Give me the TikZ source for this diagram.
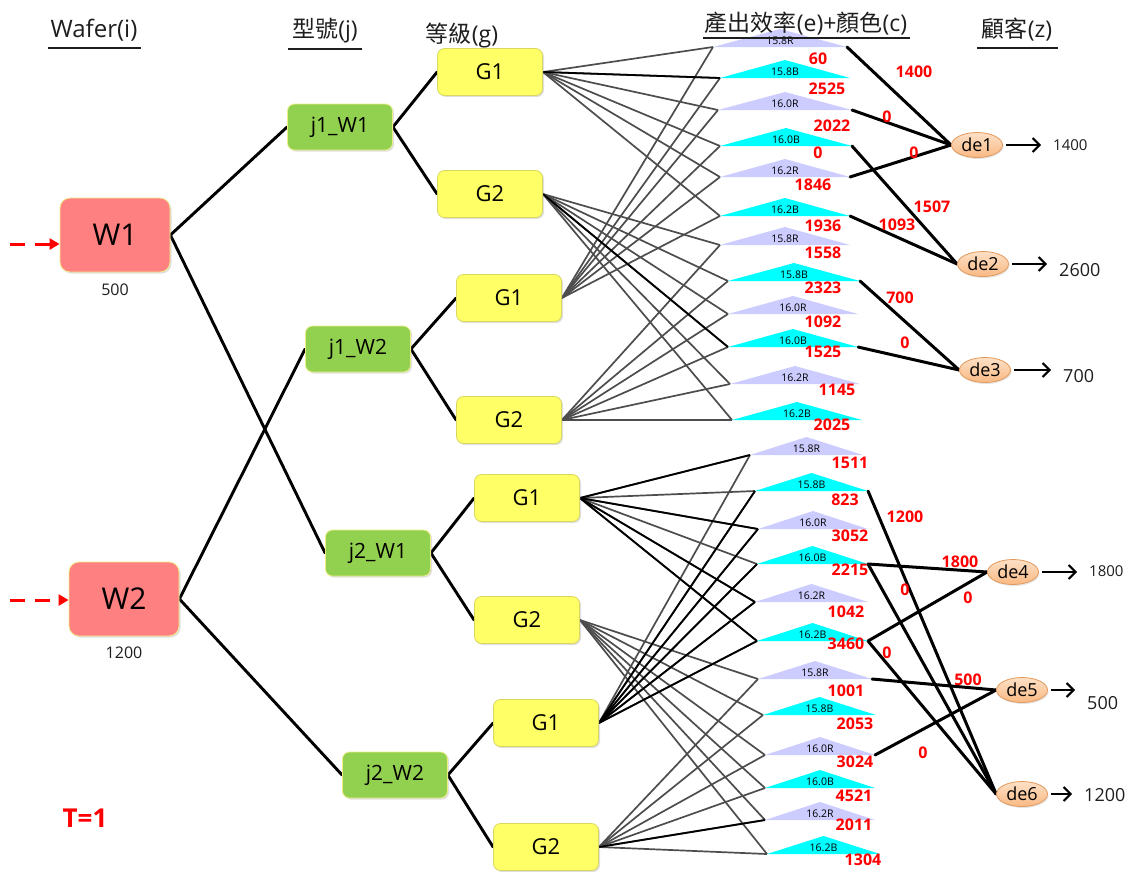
\documentclass[tikz,border=0pt]{standalone}
\usepackage{fontspec}
\setmainfont{Open Sans}
\newfontfamily\cjk{Noto Sans CJK TC}
\usetikzlibrary{shapes.geometric,arrows.meta,shadows}

\definecolor{wred}{HTML}{FF8080}
\definecolor{boxedge}{HTML}{EEEE88}
\definecolor{jgreen}{HTML}{92D050}
\definecolor{gyellow}{HTML}{FFFF66}
\definecolor{gedge}{HTML}{D8D860}
\definecolor{lav}{HTML}{CCCCFF}
\definecolor{cyn}{HTML}{00FFFF}
\definecolor{peach}{HTML}{F9B984}
\definecolor{peachlt}{HTML}{FDE0C6}
\definecolor{peachedge}{HTML}{E39A5C}
\definecolor{fangray}{HTML}{4D4D4D}
\definecolor{txtgray}{HTML}{1E1E1E}

\newcommand\pxsize[1]{\fontsize{#1}{#1}\selectfont}

\pgfdeclarelayer{bg}
\pgfsetlayers{bg,main}

% efficiency/colour triangle: name, left x, right x, base y, fill, label
\newcommand\efftri[6]{%
  \fill[#5] (#2,#4) -- ({(#2+#3)/2},{#4-18}) -- (#3,#4) -- cycle;
  \coordinate (#1-l) at (#2,#4);
  \coordinate (#1-r) at (#3,#4);
  \node[trilabel] (#1-txt) at ({(#2+#3)/2},{#4-6}) {#6};
}

\begin{document}
\begin{tikzpicture}[x=1pt,y=-1pt,
  wbox/.style={rounded corners=10pt, fill=wred, draw=boxedge, line width=0.8pt,
    minimum width=110pt, minimum height=74pt, font=\pxsize{30},
    drop shadow={shadow xshift=1.5pt, shadow yshift=-1.5pt, opacity=0.25}},
  jbox/.style={rounded corners=7pt, fill=jgreen, draw=boxedge, line width=0.8pt,
    minimum width=105pt, minimum height=46pt, font=\pxsize{21},
    drop shadow={shadow xshift=1.5pt, shadow yshift=-1.5pt, opacity=0.25}},
  gbox/.style={rounded corners=7pt, fill=gyellow, draw=gedge, line width=0.8pt,
    minimum width=105pt, minimum height=47pt, font=\pxsize{22},
    drop shadow={shadow xshift=1.5pt, shadow yshift=-1.5pt, opacity=0.25}},
  cust/.style={ellipse, top color=peachlt, bottom color=peach, draw=peachedge,
    line width=0.8pt, minimum width=51pt, minimum height=25pt, inner sep=0pt,
    font=\pxsize{18},
    drop shadow={shadow xshift=1pt, shadow yshift=-1.5pt, opacity=0.2}},
  hdr/.style={font=\pxsize{23}, text=txtgray, inner sep=0pt},
  uline/.style={line width=2pt, draw=txtgray},
  qty/.style={font=\pxsize{16}, text=txtgray, inner sep=0pt},
  demand/.style={text=txtgray, inner sep=0pt, anchor=west},
  trilabel/.style={font=\pxsize{10.5}, text=black, inner sep=0pt},
  rednum/.style={font=\bfseries\pxsize{16}, text=red, inner sep=0pt},
  link/.style={line width=2.9pt, line cap=round},
  fan/.style={line width=1.7pt, draw=fangray},
  fandark/.style={line width=1.8pt, draw=black},
  custline/.style={line width=3pt, line cap=round},
  feed/.style={red, line width=3pt, dash pattern=on 15pt off 10pt,
    -{Triangle[length=10pt,width=11pt]}},
  outarrow/.style={line width=2pt, -{Straight Barb[length=7pt,width=14pt]},
    shorten <=3pt, shorten >=12pt}
]
\useasboundingbox (0,0) rectangle (1129,871);
\begin{pgfonlayer}{bg}
  \fill[white] (0,0) rectangle (1129,871);
\end{pgfonlayer}

% ---- column headings ----
\node[hdr, anchor=base, font=\pxsize{24}] (hW) at (94,37) {Wafer(i)};
\node[hdr, anchor=base] (hJ) at (325,37) {{\cjk 型號}(j)};
\node[hdr, anchor=base] (hG) at (462,42) {{\cjk 等級}(g)};
\node[hdr, anchor=base] (hZ) at (1017,37) {{\cjk 顧客}(z)};

% ---- wafers ----
\node[wbox] (W1) at (115,235) {W1};
\node[wbox] (W2) at (124,599) {W2};
\node[qty] (W1q) at (115,290) {500};
\node[qty] (W2q) at (124,653) {1200};
\coordinate (in1) at (10,244);
\coordinate (in2) at (10,600);

% ---- models ----
\node[jbox] (j1W1) at (340,127) {j1\_W1};
\node[jbox] (j1W2) at (358,349) {j1\_W2};
\node[jbox] (j2W1) at (378,553) {j2\_W1};
\node[jbox] (j2W2) at (395,775) {j2\_W2};

% ---- grades ----
\node[gbox] (G1a) at (490,72) {G1};
\node[gbox] (G2a) at (490,194) {G2};
\node[gbox] (G1b) at (509,298) {G1};
\node[gbox] (G2b) at (509,420) {G2};
\node[gbox] (G1c) at (527,498) {G1};
\node[gbox] (G2c) at (527,620) {G2};
\node[gbox] (G1d) at (546,723) {G1};
\node[gbox] (G2d) at (546,847) {G2};

% ---- efficiency + colour ----
\efftri{t1}{713}{847}{47}{lav}{15.8R}
\efftri{t2}{720}{850}{78}{cyn}{15.8B}
\efftri{t3}{718}{852}{110}{lav}{16.0R}
\efftri{t4}{720}{852}{146}{cyn}{16.0B}
\efftri{t5}{720}{850}{177}{lav}{16.2R}
\efftri{t6}{720}{850}{216}{cyn}{16.2B}
\efftri{t7}{720}{850}{245}{lav}{15.8R}
\efftri{t8}{728}{860}{281}{cyn}{15.8B}
\efftri{t9}{728}{858}{314}{lav}{16.0R}
\efftri{t10}{728}{858}{347}{cyn}{16.0B}
\efftri{t11}{730}{860}{384}{lav}{16.2R}
\efftri{t12}{732}{862}{420}{cyn}{16.2B}
\efftri{b1}{750}{863}{455}{lav}{15.8R}
\efftri{b2}{755}{868}{491}{cyn}{15.8B}
\efftri{b3}{758}{868}{529}{lav}{16.0R}
\efftri{b4}{757}{868}{564}{cyn}{16.0B}
\efftri{b5}{755}{868}{602}{lav}{16.2R}
\efftri{b6}{757}{868}{641}{cyn}{16.2B}
\efftri{b7}{758}{872}{679}{lav}{15.8R}
\efftri{b8}{763}{876}{715}{cyn}{15.8B}
\efftri{b9}{765}{875}{755}{lav}{16.0R}
\efftri{b10}{765}{875}{788}{cyn}{16.0B}
\efftri{b11}{765}{875}{820}{lav}{16.2R}
\efftri{b12}{767}{880}{854}{cyn}{16.2B}

% heading over the triangles, drawn on top of them
\node[hdr, anchor=base] (hE) at (806,31) {{\cjk 產出效率}(e)+{\cjk 顏色}(c)};
\draw[uline] (48,48) -- (141,48);
\draw[uline] (288,49) -- (362,49);
\draw[uline] (703,38) -- (910,38);
\draw[uline] (977,48) -- (1058,48);

% ---- customers ----
\node[cust] (de1) at (977,145) {de1};
\node[cust] (de2) at (983,264) {de2};
\node[cust] (de3) at (985,370) {de3};
\node[cust] (de4) at (1013,572) {de4};
\node[cust] (de5) at (1022,690) {de5};
\node[cust] (de6) at (1022,794) {de6};

\node[demand, font=\pxsize{15}] (z1) at (1053,145) {1400};
\node[demand, font=\pxsize{18}] (z2) at (1059,270) {2600};
\node[demand, font=\pxsize{18}] (z3) at (1063,376) {700};
\node[demand, font=\pxsize{15}] (z4) at (1089,571) {1800};
\node[demand, font=\pxsize{18}] (z5) at (1087,703) {500};
\node[demand, font=\pxsize{18}] (z6) at (1084,795) {1200};

\node[font=\bfseries\pxsize{26}, text=red] (T) at (85,818) {T=1};

% ---- yields under each triangle ----
\node[rednum] (y-t1) at (818,59) {60};
\node[rednum] (y-t2) at (827,89) {2525};
\node[rednum] (y-t3) at (832,126) {2022};
\node[rednum] (y-t4) at (818,153) {0};
\node[rednum] (y-t5) at (813,185) {1846};
\node[rednum] (y-t6) at (823,226) {1936};
\node[rednum] (y-t7) at (823,253) {1558};
\node[rednum] (y-t8) at (823,288) {2323};
\node[rednum] (y-t9) at (823,322) {1092};
\node[rednum] (y-t10) at (823,352) {1525};
\node[rednum] (y-t11) at (837,390) {1145};
\node[rednum] (y-t12) at (832,425) {2025};
\node[rednum] (y-b1) at (850,463) {1511};
\node[rednum] (y-b2) at (845,500) {823};
\node[rednum] (y-b3) at (850,536) {3052};
\node[rednum] (y-b4) at (850,570) {2215};
\node[rednum] (y-b5) at (846,612) {1042};
\node[rednum] (y-b6) at (846,644) {3460};
\node[rednum] (y-b7) at (846,691) {1001};
\node[rednum] (y-b8) at (855,724) {2053};
\node[rednum] (y-b9) at (855,762) {3024};
\node[rednum] (y-b10) at (854,796) {4521};
\node[rednum] (y-b11) at (854,825) {2011};
\node[rednum] (y-b12) at (863,860) {1304};

% ---- shipped quantities ----
\node[rednum] (f1) at (914,72) {1400};
\node[rednum] (f2) at (887,117) {0};
\node[rednum] (f3) at (914,153) {0};
\node[rednum] (f4) at (932,207) {1507};
\node[rednum] (f5) at (897,225) {1093};
\node[rednum] (f6) at (900,298) {700};
\node[rednum] (f7) at (905,343) {0};
\node[rednum] (f8) at (905,517) {1200};
\node[rednum] (f9) at (960,562) {1800};
\node[rednum] (f10) at (905,590) {0};
\node[rednum] (f11) at (968,598) {0};
\node[rednum] (f12) at (887,653) {0};
\node[rednum] (f13) at (968,680) {500};
\node[rednum] (f14) at (923,753) {0};

% ---- connectors (beneath the shapes) ----
\begin{pgfonlayer}{bg}
  \draw[feed] (in1) -- (W1.west |- in1);
  \draw[feed] (in2) -- (W2.west |- in2);

  \draw[link] (W1.east) -- (j1W1.west);
  \draw[link] (W1.east) -- (j2W1.west);
  \draw[link] (W2.east) -- (j1W2.west);
  \draw[link] (W2.east) -- (j2W2.west);

  \draw[link] (j1W1.east) -- (G1a.west);
  \draw[link] (j1W1.east) -- (G2a.west);
  \draw[link] (j1W2.east) -- (G1b.west);
  \draw[link] (j1W2.east) -- (G2b.west);
  \draw[link] (j2W1.east) -- (G1c.west);
  \draw[link] (j2W1.east) -- (G2c.west);
  \draw[link] (j2W2.east) -- (G1d.west);
  \draw[link] (j2W2.east) -- (G2d.west);

  \foreach \t in {t1,t2,t3,t4,t5,t6} {
    \draw[fan] (G1a.east) -- (\t-l);
    \draw[fan] (G1b.east) -- (\t-l);
  }
  \foreach \t in {t7,t8,t9,t10,t11,t12} {
    \draw[fan] (G2a.east) -- (\t-l);
    \draw[fan] (G2b.east) -- (\t-l);
  }
  \foreach \t in {b1,b2,b3,b4,b5,b6} {
    \draw[fan] (G1c.east) -- (\t-l);
    \draw[fan] (G1d.east) -- (\t-l);
  }
  \foreach \t in {b7,b8,b9,b10,b11,b12} {
    \draw[fan] (G2c.east) -- (\t-l);
    \draw[fan] (G2d.east) -- (\t-l);
  }
  \draw[fandark] (G1a.east) -- (t2-l);
  \draw[fandark] (G2a.east) -- (t10-l);
  \foreach \t in {b1,b3,b5,b6} \draw[fandark] (G1c.east) -- (\t-l);
  \foreach \t in {b2,b3,b4,b5,b6} \draw[fandark] (G1d.east) -- (\t-l);
  \draw[fandark] (G2d.east) -- (b11-l);

  \draw[custline] (t1-r) -- (de1.west);
  \draw[custline] (t3-r) -- (de1.west);
  \draw[custline] (t5-r) -- (de1.west);
  \draw[custline] (t4-r) -- (de2.west);
  \draw[custline] (t6-r) -- (de2.west);
  \draw[custline] (t8-r) -- (de3.west);
  \draw[custline] (t10-r) -- (de3.west);
  \draw[custline] (b2-r) -- (de6.west);
  \draw[custline] (b4-r) -- (de4.west);
  \draw[custline] (b4-r) -- (de6.west);
  \draw[custline] (b6-r) -- (de4.west);
  \draw[custline] (b6-r) -- (de6.west);
  \draw[custline] (b7-r) -- (de5.west);
  \draw[custline] (b9-r) -- (de5.west);
\end{pgfonlayer}

\draw[outarrow] (de1.east) -- (de1.east -| z1.west);
\draw[outarrow] (de2.east) -- (de2.east -| z2.west);
\draw[outarrow] (de3.east) -- (de3.east -| z3.west);
\draw[outarrow] (de4.east) -- (de4.east -| z4.west);
\draw[outarrow] (de5.east) -- (de5.east -| z5.west);
\draw[outarrow] (de6.east) -- (de6.east -| z6.west);
\end{tikzpicture}
\end{document}
